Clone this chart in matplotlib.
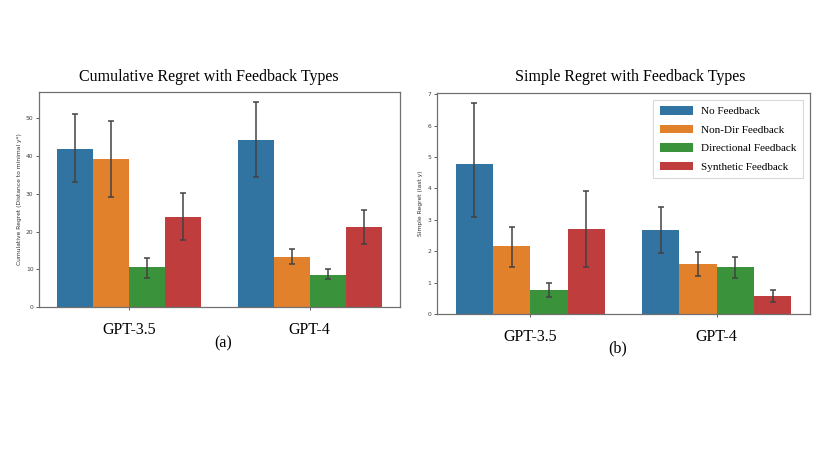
import numpy as np
import matplotlib
matplotlib.use('Agg')
import matplotlib.pyplot as plt

# models on the x axis and feedback types (hue)
models = ['GPT-3.5', 'GPT-4']
feedback_types = ['No Feedback', 'Non-Dir Feedback', 'Directional Feedback', 'Synthetic Feedback']
colors = ['#3274a1', '#e1812c', '#3a923a', '#c03d3e']

# cumulative regret: mean, CI low, CI high  (rows = feedback type, cols = model)
cum_mean = [[42.0, 44.2], [39.3, 13.3], [10.6, 8.6], [23.9, 21.1]]
cum_low = [[33.2, 34.4], [29.2, 11.4], [7.8, 7.3], [17.7, 16.8]]
cum_high = [[51.3, 54.3], [49.4, 15.3], [13.0, 10.0], [30.2, 25.8]]

# simple regret
simple_mean = [[4.79, 2.68], [2.16, 1.59], [0.76, 1.49], [2.71, 0.56]]
simple_low = [[3.08, 1.93], [1.51, 1.22], [0.53, 1.15], [1.49, 0.37]]
simple_high = [[6.71, 3.42], [2.76, 1.99], [0.98, 1.83], [3.92, 0.78]]

serif = ['Liberation Serif', 'DejaVu Serif']


def draw_panel(ax, means, lows, highs, ylabel, ylim, yticks):
    """Seaborn-like grouped bar plot with CI error bars"""
    x = np.arange(len(models))
    n = len(feedback_types)
    width = 0.8 / n
    for i, name in enumerate(feedback_types):
        pos = x - 0.4 + width * (i + 0.5)
        m = np.array(means[i])
        err = np.array([m - np.array(lows[i]), np.array(highs[i]) - m])
        ax.bar(pos, m, width, color=colors[i], label=name, linewidth=0)
        ax.errorbar(pos, m, yerr=err, fmt='none', ecolor='#424242',
                    elinewidth=1.1, capsize=2.4, capthick=1.1)
    ax.set_xlim(-0.5, 1.5)
    ax.set_ylim(*ylim)
    ax.set_yticks(yticks)
    ax.set_xticks(x)
    ax.set_xticklabels(models, family=serif, fontsize=11.5)
    ax.tick_params(axis='x', length=2, width=0.6, pad=9, colors='#404040',
                   labelcolor='black')
    ax.tick_params(axis='y', length=2, width=0.6, pad=2, labelsize=4.3,
                   colors='#404040')
    ax.set_ylabel(ylabel, fontsize=4.3, color='#303030', labelpad=3)
    for sp in ax.spines.values():
        sp.set_color('#707070')
        sp.set_linewidth(0.9)


fig = plt.figure(figsize=(8.3, 4.67), dpi=100)
W, H = 830.0, 467.0

ax1 = fig.add_axes([39 / W, 1 - 307 / H, 361 / W, 215 / H])
draw_panel(ax1, cum_mean, cum_low, cum_high,
           'Cumulative Regret (Distance to minimal y*)', (0, 57), [0, 10, 20, 30, 40, 50])

ax2 = fig.add_axes([437 / W, 1 - 314 / H, 373 / W, 221 / H])
draw_panel(ax2, simple_mean, simple_low, simple_high,
           'Simple Regret (last y)', (0, 7.04), list(range(8)))

leg = ax2.legend(loc='upper right', prop={'family': serif, 'size': 8},
                 handlelength=3.0, handleheight=0.8, labelspacing=0.75,
                 borderpad=0.6, handletextpad=0.75, fancybox=False,
                 borderaxespad=0.6)
leg.get_frame().set_edgecolor('#d0d0d0')
leg.get_frame().set_linewidth(0.8)

# panel titles and captions
fig.text(209 / W, 1 - 77 / H, 'Cumulative Regret with Feedback Types',
         family=serif, fontsize=11.5, ha='center', va='center')
fig.text(630 / W, 1 - 77 / H, 'Simple Regret with Feedback Types',
         family=serif, fontsize=11.5, ha='center', va='center')
fig.text(223 / W, 1 - 343 / H, '(a)', family=serif, fontsize=11.5,
         ha='center', va='center')
fig.text(618 / W, 1 - 348 / H, '(b)', family=serif, fontsize=11.5,
         ha='center', va='center')

fig.savefig('out.png', dpi=100)
